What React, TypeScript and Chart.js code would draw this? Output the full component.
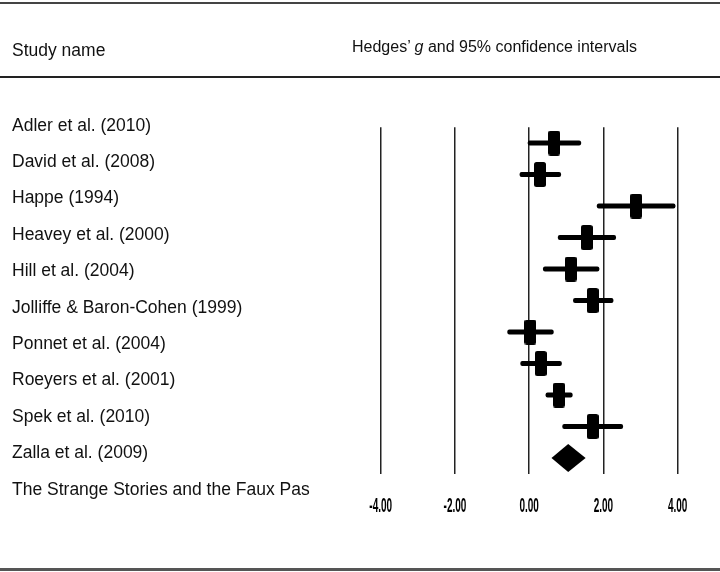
import React, { useEffect, useRef } from "react";
import { Chart, registerables } from "chart.js";

Chart.register(...registerables);

const studies = [
  "Adler et al. (2010)",
  "David et al. (2008)",
  "Happe (1994)",
  "Heavey et al. (2000)",
  "Hill et al. (2004)",
  "Jolliffe & Baron-Cohen (1999)",
  "Ponnet et al. (2004)",
  "Roeyers et al. (2001)",
  "Spek et al. (2010)",
  "Zalla et al. (2009)",
];
const summaryLabel = "The Strange Stories and the Faux Pas";
const estimates = [0.67, 0.29, 2.88, 1.55, 1.12, 1.71, 0.03, 0.31, 0.8, 1.71];
const lower = [-0.03, -0.25, 1.83, 0.78, 0.38, 1.19, -0.58, -0.23, 0.45, 0.9];
const upper = [1.39, 0.85, 3.93, 2.33, 1.88, 2.26, 0.65, 0.87, 1.16, 2.52];
const summaryEstimate = 1.05;
const summaryLower = 0.6;
const summaryUpper = 1.52;
const tickValues = [-4, -2, 0, 2, 4];
const tickLabels = ["-4.00", "-2.00", "0.00", "2.00", "4.00"];

const FONT = "'Liberation Sans', Arial, sans-serif";

export default function App() {
  const canvasRef = useRef<HTMLCanvasElement | null>(null);

  useEffect(() => {
    const canvas = canvasRef.current;
    if (!canvas) return;

    const box = document.createElement("canvas");
    box.width = 12;
    box.height = 25;
    const bctx = box.getContext("2d")!;
    bctx.fillStyle = "#000";
    bctx.beginPath();
    (bctx as any).roundRect ? (bctx as any).roundRect(0, 0, 12, 25, 2.5) : bctx.rect(0, 0, 12, 25);
    bctx.fill();

    const rows = [...studies, summaryLabel];

    const diamondPlugin = {
      id: "diamond",
      afterDatasetsDraw(chart: any) {
        const { ctx, scales } = chart;
        const xs = scales.x;
        const ys = scales.y;
        const yc = ys.getPixelForValue(rows.length - 1);
        const xl = xs.getPixelForValue(summaryLower);
        const xm = xs.getPixelForValue(summaryEstimate);
        const xr = xs.getPixelForValue(summaryUpper);
        ctx.save();
        ctx.fillStyle = "#000";
        ctx.beginPath();
        ctx.moveTo(xl, yc);
        ctx.lineTo(xm, yc - 14);
        ctx.lineTo(xr, yc);
        ctx.lineTo(xm, yc + 14);
        ctx.closePath();
        ctx.fill();
        ctx.restore();
      },
    };

    const tickPlugin = {
      id: "condensedTicks",
      afterDraw(chart: any) {
        const { ctx, scales } = chart;
        const xs = scales.x;
        ctx.save();
        ctx.fillStyle = "#000";
        ctx.font = `bold 20px ${FONT}`;
        ctx.textAlign = "center";
        ctx.textBaseline = "alphabetic";
        tickValues.forEach((v, i) => {
          const x = xs.getPixelForValue(v);
          ctx.save();
          ctx.translate(x, 511.5);
          ctx.scale(0.5, 1);
          ctx.fillText(tickLabels[i], 0, 0);
          ctx.restore();
        });
        ctx.restore();
      },
    };

    const chart = new Chart(canvas, {
      type: "bar",
      data: {
        labels: rows,
        datasets: [
          {
            type: "bar",
            data: [...studies.map((_, i) => [lower[i], upper[i]]), null] as any,
            backgroundColor: "#000",
            borderWidth: 0,
            borderSkipped: false,
            borderRadius: 2,
            barThickness: 4.5,
            order: 2,
          } as any,
          {
            type: "scatter",
            data: estimates.map((e, i) => ({ x: e, y: i })),
            pointStyle: box,
            showLine: false,
            order: 1,
          } as any,
        ],
      },
      options: {
        indexAxis: "y",
        animation: false,
        responsive: false,
        maintainAspectRatio: false,
        events: [],
        layout: {
          padding: { left: 380.7, right: 42.3, top: 127.25, bottom: 98.25 },
        },
        plugins: {
          legend: { display: false },
          tooltip: { enabled: false },
          title: { display: false },
        },
        scales: {
          x: {
            type: "linear",
            min: -4,
            max: 4,
            afterBuildTicks: (s: any) => {
              s.ticks = tickValues.map((v) => ({ value: v }));
            },
            afterFit: (s: any) => {
              s.height = 0;
            },
            ticks: { display: false },
            grid: {
              display: true,
              color: "#222",
              lineWidth: 1.5,
              drawTicks: false,
            },
            border: { display: false },
          },
          y: {
            type: "category",
            display: false,
            offset: true,
            grid: { display: false },
          },
        },
      } as any,
      plugins: [diamondPlugin, tickPlugin],
    });

    return () => chart.destroy();
  }, []);

  const labelStyle = (i: number): React.CSSProperties => ({
    position: "absolute",
    left: 12,
    top: 130.7 + i * 36.4 - 16.1,
    font: `17.5px ${FONT}`,
    lineHeight: "20px",
    color: "#111",
    whiteSpace: "nowrap",
  });

  return (
    <div
      style={{
        position: "fixed",
        left: 0,
        top: 0,
        width: 720,
        height: 572,
        background: "#fff",
        overflow: "hidden",
      }}
    >
      <canvas
        ref={canvasRef}
        width={720}
        height={572}
        style={{ position: "absolute", left: 0, top: 0, width: 720, height: 572 }}
      />
      <div style={{ position: "absolute", left: 0, top: 2, width: 720, height: 2, background: "#444" }} />
      <div style={{ position: "absolute", left: 0, top: 76, width: 720, height: 2, background: "#222" }} />
      <div style={{ position: "absolute", left: 0, top: 568, width: 720, height: 3, background: "#555" }} />
      <div
        style={{
          position: "absolute",
          left: 12,
          top: 56.5 - 16.1,
          font: `17.5px ${FONT}`,
          lineHeight: "20px",
          color: "#111",
          whiteSpace: "nowrap",
        }}
      >
        Study name
      </div>
      <div
        style={{
          position: "absolute",
          left: 352,
          top: 52.7 - 14.7,
          font: `16px ${FONT}`,
          lineHeight: "18px",
          color: "#111",
          whiteSpace: "nowrap",
        }}
      >
        Hedges’ <i>g</i> and 95% confidence intervals
      </div>
      {[...studies, summaryLabel].map((s, i) => (
        <div key={s} style={labelStyle(i)}>
          {s}
        </div>
      ))}
    </div>
  );
}
